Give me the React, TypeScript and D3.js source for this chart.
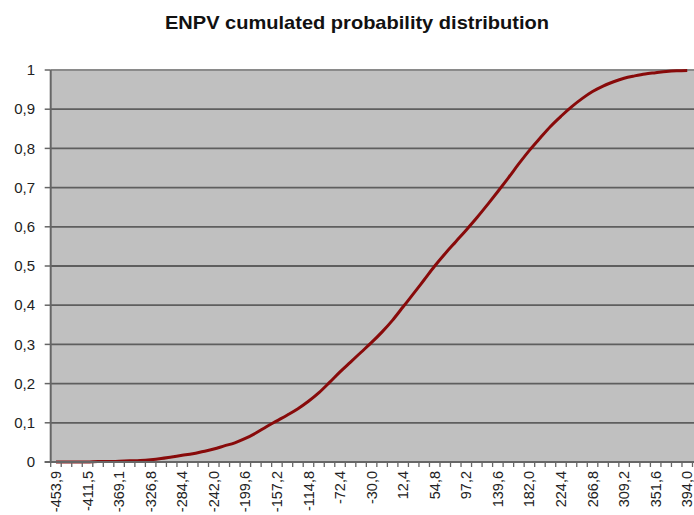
import React from "react";
import * as d3 from "d3";

const TITLE = "ENPV cumulated probability distribution";

// category values (ENPV), one per data point
const CATEGORIES: number[] = [
  -453.9, -439.8, -425.6, -411.5, -397.4, -383.2, -369.1, -355.0, -340.8, -326.8,
  -312.6, -298.4, -284.4, -270.2, -256.1, -242.0, -227.8, -213.7, -199.6, -185.4,
  -171.3, -157.2, -143.0, -128.9, -114.8, -100.6, -86.5, -72.4, -58.2, -44.1,
  -30.0, -15.8, -1.7, 12.4, 26.6, 40.7, 54.8, 69.0, 83.1, 97.2,
  111.4, 125.5, 139.6, 153.8, 167.9, 182.0, 196.2, 210.3, 224.4, 238.6,
  252.7, 266.8, 281.0, 295.1, 309.2, 323.3, 337.5, 351.6, 365.7, 379.9,
  394.0,
];

// cumulated probability per category
const PROBABILITY: number[] = [
  0.000, 0.000, 0.000, 0.000, 0.001, 0.001, 0.002, 0.003, 0.004, 0.006,
  0.009, 0.013, 0.017, 0.021, 0.027, 0.033, 0.041, 0.049, 0.060, 0.074,
  0.090, 0.105, 0.120, 0.136, 0.155, 0.177, 0.203, 0.230, 0.255, 0.280,
  0.305, 0.332, 0.362, 0.396, 0.430, 0.465, 0.500, 0.532, 0.562, 0.592,
  0.623, 0.656, 0.690, 0.725, 0.761, 0.795, 0.826, 0.856, 0.882, 0.906,
  0.927, 0.945, 0.959, 0.970, 0.979, 0.985, 0.990, 0.993, 0.996, 0.998,
  0.999,
];

const Y_TICKS: number[] = [0, 0.1, 0.2, 0.3, 0.4, 0.5, 0.6, 0.7, 0.8, 0.9, 1];
const LABEL_EVERY = 3;

const W = 694;
const H = 515;
const PLOT = { left: 50.7, right: 692.5, top: 70, bottom: 462 };

const fmt = (v: number) => v.toFixed(1).replace(".", ",");
const fmtY = (v: number) => (v === 0 || v === 1 ? String(v) : String(Math.round(v * 10) / 10).replace(".", ","));

export default function App() {
  const idx = d3.range(CATEGORIES.length);
  const x = d3.scaleBand<number>().domain(idx).range([PLOT.left, PLOT.right]).paddingInner(0).paddingOuter(0);
  const y = d3.scaleLinear().domain([0, 1]).range([PLOT.bottom, PLOT.top]);
  const cx = (i: number) => (x(i) as number) + x.bandwidth() / 2;

  const line = d3
    .line<number>()
    .x((_, i) => cx(i))
    .y((d) => y(d))
    .curve(d3.curveMonotoneX);

  const font = "Arial, 'Liberation Sans', sans-serif";
  const boundaries = d3.range(CATEGORIES.length + 1).map((i) =>
    i < CATEGORIES.length ? (x(i) as number) : PLOT.right
  );

  return (
    <svg width={W} height={H} style={{ position: "absolute", left: 0, top: 0, background: "#fff" }}>
      <text
        x={357}
        y={29}
        textAnchor="middle"
        fontFamily={font}
        fontWeight="bold"
        fontSize={19}
        fill="#111"
        textLength={384}
        lengthAdjust="spacingAndGlyphs"
      >
        {TITLE}
      </text>

      <rect x={PLOT.left} y={PLOT.top} width={W - PLOT.left + 10} height={PLOT.bottom - PLOT.top} fill="#c0c0c0" />

      {Y_TICKS.map((t) => (
        <g key={t}>
          {t > 0 && (
            <line
              x1={PLOT.left}
              x2={W + 5}
              y1={y(t)}
              y2={y(t)}
              stroke={t === 1 ? "#8a8a8a" : "#5e5e5e"}
              strokeWidth={1.8}
            />
          )}
          <line x1={PLOT.left - 6} x2={PLOT.left} y1={y(t)} y2={y(t)} stroke="#666" strokeWidth={1.5} />
          <text
            x={35}
            y={y(t)}
            dy="0.35em"
            textAnchor="end"
            fontFamily={font}
            fontSize={15}
            fill="#222"
          >
            {fmtY(t)}
          </text>
        </g>
      ))}

      <path d={line(PROBABILITY) || ""} fill="none" stroke="#880a0a" strokeWidth={3} strokeLinejoin="round" />

      {/* axes */}
      <line x1={PLOT.left} x2={PLOT.left} y1={PLOT.top} y2={PLOT.bottom + 1} stroke="#666" strokeWidth={2} />
      <line x1={PLOT.left - 6} x2={W + 5} y1={PLOT.bottom} y2={PLOT.bottom} stroke="#666" strokeWidth={1.8} />
      {boundaries.map((bx, i) => (
        <line key={i} x1={bx} x2={bx} y1={PLOT.bottom} y2={PLOT.bottom + 5} stroke="#666" strokeWidth={1.3} />
      ))}

      {CATEGORIES.map((c, i) =>
        i % LABEL_EVERY === 0 ? (
          <text
            key={i}
            transform={`translate(${cx(i)},${PLOT.bottom + 9}) rotate(-90)`}
            textAnchor="end"
            dy="0.35em"
            fontFamily={font}
            fontSize={14.5}
            fill="#222"
          >
            {fmt(c)}
          </text>
        ) : null
      )}
    </svg>
  );
}
